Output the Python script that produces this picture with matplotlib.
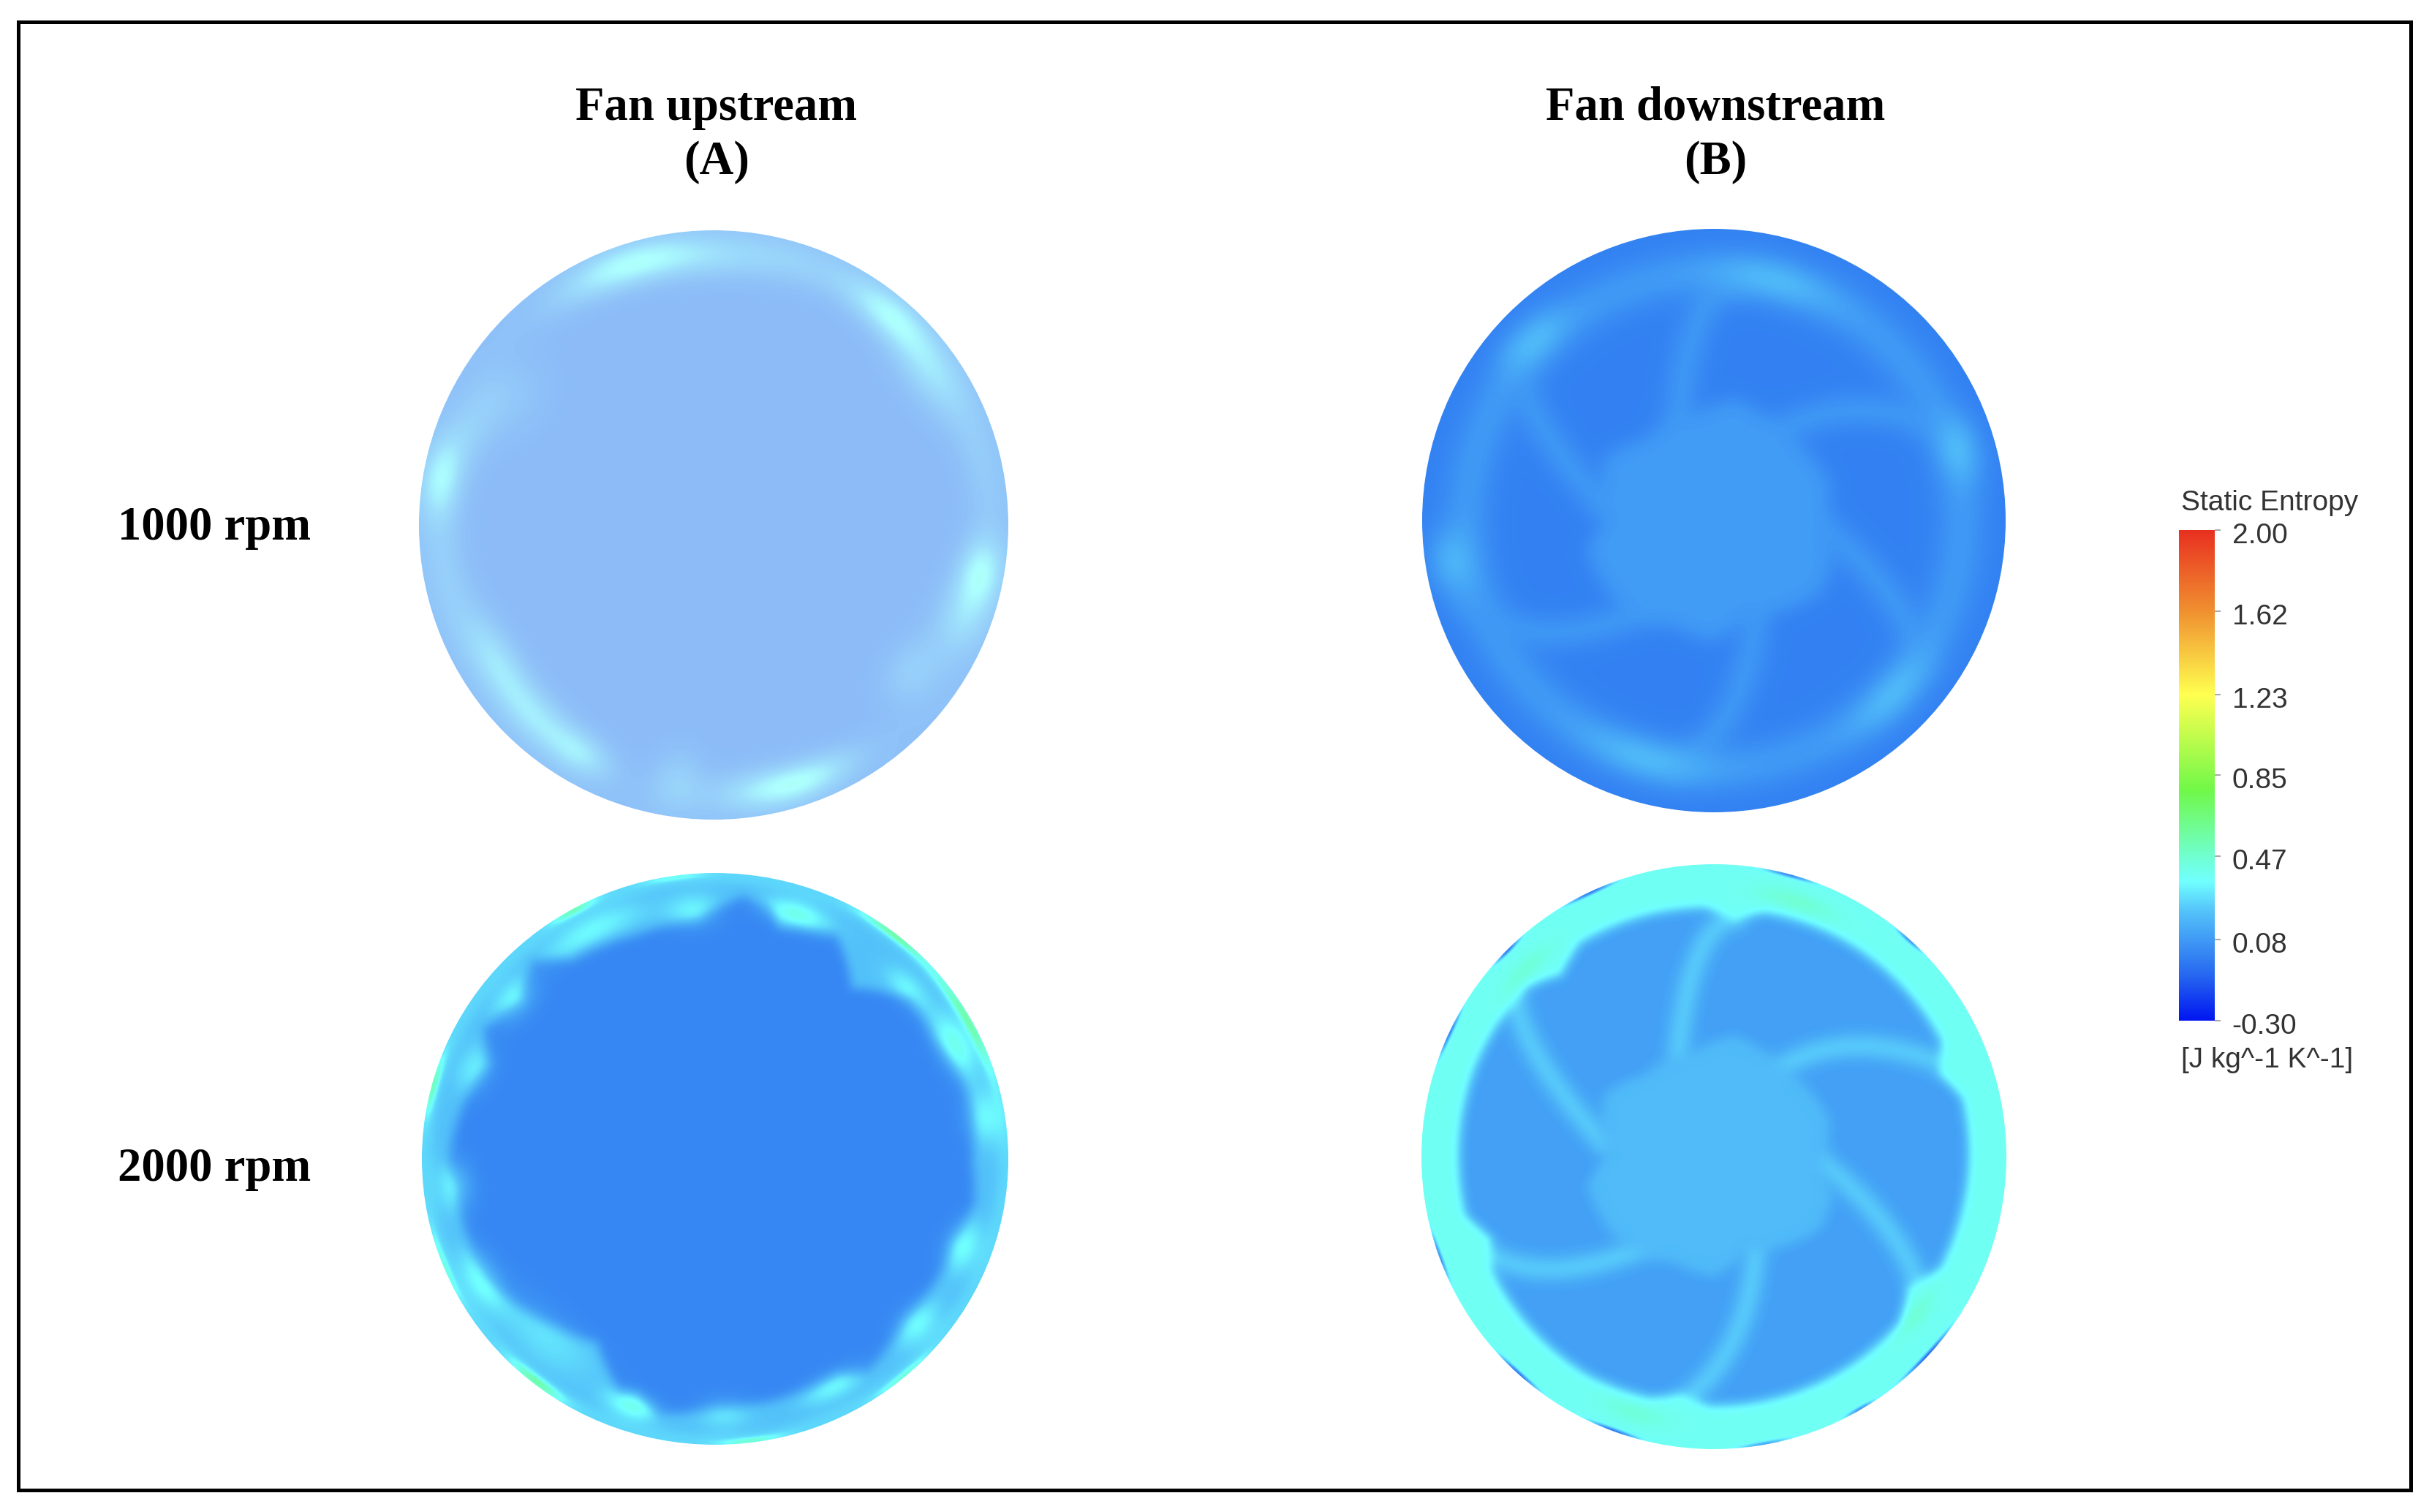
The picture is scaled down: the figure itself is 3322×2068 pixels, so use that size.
import matplotlib
matplotlib.use('Agg')
import matplotlib.pyplot as plt
import numpy as np
from matplotlib.colors import LinearSegmentedColormap, Normalize
from matplotlib.cm import ScalarMappable
from matplotlib.patches import Ellipse, Rectangle
from matplotlib.transforms import ScaledTranslation

# Colour legend
legend_ticks = [-0.30, 0.08, 0.47, 0.85, 1.23, 1.62, 2.00]
legend_labels = ['-0.30', '0.08', '0.47', '0.85', '1.23', '1.62', '2.00']
vmin, vmax = -0.30, 2.00
cmap_values = [-0.30, -0.10, 0.08, 0.22, 0.35, 0.47, 0.78, 1.23, 1.62, 2.00]
cmap_colors = ['#0015F0', '#2463F0', '#409AF5', '#55C5FA', '#70FFFF',
               '#70FFD0', '#70F848', '#FFFF50', '#F09030', '#E83020']

column_titles = ['Fan upstream\n(A)', 'Fan downstream\n(B)']
row_labels = ['1000 rpm', '2000 rpm']

# Entropy levels
up_1000_base = 0.03
up_2000_base = 0.02
up_2000_band = 0.21
down_1000_base = 0.00
down_1000_hub = 0.09
down_1000_blade = 0.075
down_1000_ring = 0.085
down_2000_base = 0.10
down_2000_hub = 0.19
down_2000_blade = 0.24
down_2000_ring = 0.38

# Bright spots near the rim: angle (deg), radius, amount, angular width, radial width
up_1000_spots = [(109, 0.93, 0.28, 10, 0.045), (92, 0.91, 0.14, 12, 0.05), (50, 0.93, 0.27, 7, 0.045),
                 (36, 0.90, 0.18, 8, 0.06), (170, 0.94, 0.27, 6, 0.045), (157, 0.88, 0.10, 8, 0.05),
                 (212, 0.87, 0.20, 8, 0.05), (228, 0.89, 0.22, 8, 0.05), (240, 0.90, 0.19, 5, 0.045),
                 (289, 0.92, 0.28, 8, 0.04), (279, 0.91, 0.13, 8, 0.05), (262, 0.88, 0.12, 4, 0.07),
                 (350, 0.92, 0.28, 5, 0.05), (340, 0.90, 0.18, 6, 0.06), (324, 0.84, 0.12, 6, 0.06),
                 (148, 0.80, 0.06, 7, 0.07), (70, 0.94, 0.08, 11, 0.05), (190, 0.92, 0.09, 13, 0.05),
                 (15, 0.93, 0.07, 15, 0.05)]

# Edge of the dark core of the 2000 rpm upstream disc: angle (deg), radius
up_2000_edge_angle = [-174, -152, -133, -122, -112, -108, -102, -90, -76, -61, -55, -41, -26, -20, -10, -1,
                      11, 17, 29, 40, 52, 62, 75, 78, 84, 94, 109, 125, 132, 140, 150, 157, 167, 180]
up_2000_edge_radius = [0.89, 0.89, 0.80, 0.76, 0.875, 0.864, 0.917, 0.87, 0.87, 0.866, 0.91, 0.86, 0.87, 0.86,
                       0.90, 0.88, 0.894, 0.89, 0.86, 0.87, 0.76, 0.885, 0.84, 0.897, 0.925, 0.84, 0.83, 0.854,
                       0.93, 0.864, 0.91, 0.84, 0.88, 0.91]
up_2000_spots = [(118, 0.905, 0.14, 8, 0.035), (95, 0.87, 0.13, 4, 0.04), (72, 0.90, 0.21, 5, 0.03),
                 (42, 0.886, 0.14, 4, 0.03), (26, 0.91, 0.20, 5, 0.04), (9, 0.93, 0.14, 4, 0.045),
                 (-20, 0.90, 0.16, 4, 0.04), (-40, 0.90, 0.15, 4, 0.04), (-63, 0.89, 0.15, 5, 0.03),
                 (-88, 0.89, 0.09, 4, 0.04), (-108, 0.91, 0.21, 4, 0.03), (-133, 0.85, 0.08, 9, 0.06),
                 (-152, 0.90, 0.18, 5, 0.04), (-174, 0.89, 0.15, 4, 0.04), (159, 0.875, 0.11, 4, 0.04),
                 (141, 0.88, 0.15, 4, 0.04)]
up_2000_flecks = [(119, 0.995, 0.25, 3, 0.01), (52, 0.995, 0.3, 5, 0.01), (30, 0.99, 0.28, 8, 0.012),
                  (165, 0.995, 0.25, 4, 0.01), (-128, 0.99, 0.3, 4, 0.012), (-50, 0.995, 0.18, 4, 0.008),
                  (-83, 0.995, 0.2, 4, 0.008), (98, 0.995, 0.12, 4, 0.008), (-158, 0.995, 0.15, 5, 0.008)]

# Blade centre lines of the fan, x and y as fractions of the disc radius
blade_x = [[-0.12, -0.09, -0.01, 0.07], [0.22, 0.38, 0.61, 0.81], [0.37, 0.54, 0.65, 0.71],
           [0.14, 0.11, 0.01, -0.11], [-0.24, -0.47, -0.68, -0.83], [-0.38, -0.54, -0.64, -0.68]]
blade_y = [[0.35, 0.61, 0.74, 0.82], [0.30, 0.36, 0.38, 0.30], [-0.02, -0.17, -0.34, -0.48],
           [-0.33, -0.53, -0.72, -0.84], [-0.31, -0.38, -0.37, -0.29], [0.05, 0.24, 0.42, 0.55]]

# Lobed hub outline: angle (deg), radius
hub_angle = [-34, -20, -5, 18, 46, 56, 80, 100, 131, 150, 180, 193, 219, 250, 270, 290, 326, 340, 355, 378]
hub_radius = [0.44, 0.43, 0.37, 0.415, 0.39, 0.39, 0.42, 0.37, 0.37, 0.43, 0.37, 0.445, 0.436, 0.39, 0.41,
              0.34, 0.44, 0.43, 0.37, 0.415]

down_1000_spots = [(135, 0.88, 0.12, 6, 0.05), (76, 0.85, 0.11, 10, 0.05), (16, 0.88, 0.12, 5, 0.05),
                   (-44, 0.86, 0.11, 8, 0.05), (-106, 0.85, 0.11, 10, 0.05), (-171, 0.92, 0.13, 5, 0.05)]

# Inner edge of the bright ring at 2000 rpm downstream
down_2000_ring_angle = [-180, -167, -160, -153, -120, -105, -98, -91, -58, -42, -34, -26, 0, 13, 20, 27, 60, 78, 85,
                        92, 122, 130, 138, 160, 180]
down_2000_ring_radius = [0.87, 0.87, 0.81, 0.85, 0.86, 0.85, 0.82, 0.85, 0.85, 0.85, 0.80, 0.86, 0.87, 0.87, 0.82,
                         0.87, 0.86, 0.85, 0.81, 0.85, 0.86, 0.81, 0.86, 0.87, 0.87]
down_2000_spots = [(72, 0.92, 0.1, 6, 0.02), (135, 0.91, 0.08, 5, 0.02), (-38, 0.88, 0.09, 4, 0.02),
                   (-107, 0.92, 0.08, 5, 0.02)]
down_2000_flecks = [(115, 1.0, -0.4, 3, 0.006), (75, 1.0, -0.35, 3, 0.006), (48, 1.0, -0.3, 2, 0.006),
                    (135, 1.0, -0.4, 2, 0.006), (155, 1.0, -0.35, 3, 0.006), (200, 1.0, -0.3, 3, 0.006),
                    (228, 1.0, -0.4, 3, 0.006), (250, 1.0, -0.4, 3, 0.006), (280, 1.0, -0.25, 3, 0.006),
                    (300, 1.0, -0.3, 2, 0.006), (317, 1.0, -0.45, 4, 0.006)]

grid_size = 600
u, v = np.meshgrid(np.linspace(-1, 1, grid_size), np.linspace(1, -1, grid_size))
rr = np.hypot(u, v)
angle = np.degrees(np.arctan2(v, u))


def step(x, width):
    return 0.5 * (1 + np.tanh(x / width))


def outline(angles, radii):
    # radius of an outline at every grid point
    return np.interp(angle, angles, radii, period=360)


def add_spots(field, spots):
    for a, r0, amount, da, dr in spots:
        dth = (angle - a + 180) % 360 - 180
        field = field + amount * np.exp(-0.5 * (dth / da) ** 2 - 0.5 * ((rr - r0) / dr) ** 2)
    return field


def soften(field, sigma):
    # the reference is a blurry screenshot
    half = int(3 * sigma)
    kernel = np.exp(-0.5 * (np.arange(-half, half + 1) / sigma) ** 2)
    kernel = kernel / kernel.sum()
    padded = np.pad(field, half, mode='edge')
    padded = np.apply_along_axis(lambda row: np.convolve(row, kernel, mode='same'), 0, padded)
    padded = np.apply_along_axis(lambda row: np.convolve(row, kernel, mode='same'), 1, padded)
    return padded[half:-half, half:-half]


def blade_distance():
    dist = np.full(rr.shape, 9.0)
    for bx, by in zip(blade_x, blade_y):
        t = np.arange(len(bx))
        px = np.polyval(np.polyfit(t, bx, 2), np.linspace(0, 3, 90))
        py = np.polyval(np.polyfit(t, by, 2), np.linspace(0, 3, 90))
        for x0, y0 in zip(px, py):
            dist = np.minimum(dist, np.hypot(u - x0, v - y0))
    return dist


blades = blade_distance()
hub_edge = outline(hub_angle, hub_radius)

# 1000 rpm upstream
f_a1 = up_1000_base + 0.03 * step(rr - 0.90, 0.04)
f_a1 = soften(add_spots(f_a1, up_1000_spots), 5)

# 2000 rpm upstream
f_a2 = up_2000_base + (up_2000_band - up_2000_base) * step(rr - outline(up_2000_edge_angle, up_2000_edge_radius), 0.016)
f_a2 = f_a2 + 0.05 * step(rr - 0.965, 0.012)
f_a2 = soften(add_spots(f_a2, up_2000_spots), 4)
f_a2 = add_spots(f_a2, up_2000_flecks)

# 1000 rpm downstream
f_b1 = down_1000_base + (down_1000_ring - down_1000_base) * np.exp(-0.5 * ((rr - 0.85) / 0.055) ** 2)
f_b1 = f_b1 + np.clip(down_1000_blade - f_b1, 0, None) * np.exp(-0.5 * (blades / 0.04) ** 2)
f_b1 = f_b1 + (down_1000_hub - f_b1) * step(hub_edge - rr, 0.03)
f_b1 = soften(add_spots(f_b1, down_1000_spots), 6)

# 2000 rpm downstream
f_b2 = np.full(rr.shape, down_2000_base)
f_b2 = f_b2 + (down_2000_blade - f_b2) * np.exp(-0.5 * (blades / 0.03) ** 2)
f_b2 = f_b2 + (down_2000_hub - f_b2) * step(hub_edge - rr, 0.02)
ring = step(rr - outline(down_2000_ring_angle, down_2000_ring_radius), 0.014)
f_b2 = f_b2 + (down_2000_ring - f_b2) * ring
f_b2 = soften(add_spots(f_b2, down_2000_spots), 4)
f_b2 = add_spots(f_b2, down_2000_flecks)

cmap = LinearSegmentedColormap.from_list(
    'entropy', [((x - vmin) / (vmax - vmin), c) for x, c in zip(cmap_values, cmap_colors)], N=512)
norm = Normalize(vmin, vmax)

fig = plt.figure(figsize=(33.22, 20.68), dpi=100, facecolor='white')
ax = fig.add_axes([0, 0, 1, 1])
ax.axis('off')

ax.add_patch(Rectangle((25, 30), 3272, 2008, fill=False, edgecolor='black', linewidth=3.6))

# field, centre x, centre y, x radius, y radius, alpha
discs = [(f_a1, 976, 718, 403, 403, 0.58), (f_a2, 978, 1585, 401, 391, 1.0),
         (f_b1, 2344, 712, 399, 399, 1.0), (f_b2, 2344, 1582, 400, 400, 1.0)]
for field, cx, cy, rx, ry, alpha in discs:
    im = ax.imshow(field, cmap=cmap, norm=norm, alpha=alpha, interpolation='bilinear', aspect='auto',
                   extent=[cx - rx, cx + rx, cy + ry, cy - ry], zorder=2)
    im.set_clip_path(Ellipse((cx, cy), 2 * rx, 2 * ry, transform=ax.transData))
ax.set_xlim(0, 3322)
ax.set_ylim(2068, 0)

serif = ['Liberation Serif', 'DejaVu Serif']
sans = ['Liberation Sans', 'DejaVu Sans']
ax.text(980, 148, column_titles[0].split('\n')[0], family=serif, weight='bold', fontsize=46.5, ha='center', va='center')
ax.text(980, 222, column_titles[0].split('\n')[1], family=serif, weight='bold', fontsize=46.5, ha='center', va='center')
ax.text(2346, 148, column_titles[1].split('\n')[0], family=serif, weight='bold', fontsize=46.5, ha='center', va='center')
ax.text(2346, 222, column_titles[1].split('\n')[1], family=serif, weight='bold', fontsize=46.5, ha='center', va='center')
ax.text(293, 722, row_labels[0], family=serif, weight='bold', fontsize=46.5, ha='center', va='center')
ax.text(293, 1599, row_labels[1], family=serif, weight='bold', fontsize=46.5, ha='center', va='center')

# colour bar
cax = fig.add_axes([2980 / 3322, 1 - 1396 / 2068, 49 / 3322, 671 / 2068])
cb = fig.colorbar(ScalarMappable(norm=norm, cmap=cmap), cax=cax)
cb.outline.set_visible(False)
cb.set_ticks(legend_ticks)
cb.set_ticklabels(legend_labels)
cax.tick_params(axis='y', length=6, width=1.5, color='#aaaaaa', pad=11, labelsize=28, labelcolor='#333333')
shift = ScaledTranslation(0, -4 / 100, fig.dpi_scale_trans)
for lab in cax.get_yticklabels():
    lab.set_family(sans)
    lab.set_transform(lab.get_transform() + shift)
ax.text(2983, 688, 'Static Entropy', family=sans, fontsize=28, color='#333333', ha='left', va='center')
ax.text(2983, 1450, '[J kg^-1 K^-1]', family=sans, fontsize=28, color='#333333', ha='left', va='center')

fig.savefig('out.png', dpi=100)
